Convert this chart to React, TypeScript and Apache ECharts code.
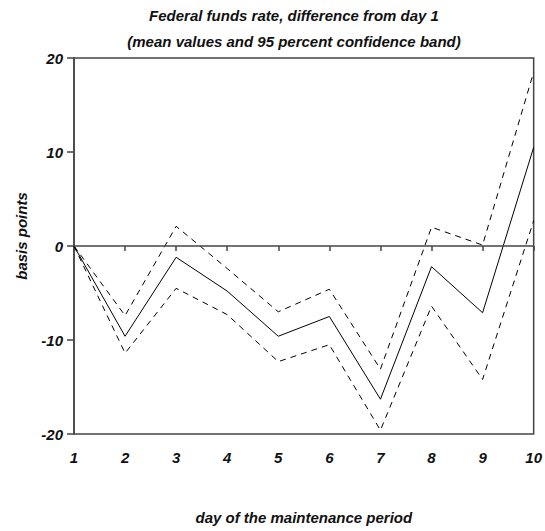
import React, { useEffect, useRef } from "react";
import * as echarts from "echarts";

const days = [1, 2, 3, 4, 5, 6, 7, 8, 9, 10];
const meanValues = [0, -9.6, -1.2, -4.8, -9.6, -7.5, -16.3, -2.2, -7.1, 10.5];
const upperBand = [0, -7.4, 2.1, -2.4, -7.0, -4.6, -13.1, 2.0, 0.1, 18.5];
const lowerBand = [0, -11.4, -4.5, -7.3, -12.3, -10.5, -19.6, -6.4, -14.2, 2.7];
const yTicks = { min: -20, max: 20, interval: 10 };
const titleText = "Federal funds rate, difference from day 1\n(mean values and 95 percent confidence band)";
const xName = "day of the maintenance period";
const yName = "basis points";

const FONT = "'Liberation Sans', Arial, sans-serif";

export default function App() {
  const ref = useRef<HTMLDivElement>(null);
  useEffect(() => {
    if (!ref.current) return;
    const chart = echarts.init(ref.current, undefined, { renderer: "svg" });
    const pair = (arr: number[]) => days.map((d, i) => [d, arr[i]]);
    const textBase = { fontFamily: FONT, fontWeight: "bold" as const, fontStyle: "italic" as const, color: "#111" };
    chart.setOption({
      animation: false,
      backgroundColor: "#fff",
      title: {
        text: titleText,
        left: 294,
        top: 2,
        padding: 0,
        textAlign: "center",
        textStyle: { ...textBase, fontSize: 15, lineHeight: 26 },
      },
      grid: {
        left: 74,
        right: 11,
        top: 58,
        bottom: 97,
        show: true,
        borderColor: "#444",
        borderWidth: 1.5,
        backgroundColor: "transparent",
      },
      xAxis: {
        type: "value",
        min: 1,
        max: 10,
        interval: 1,
        offset: 3,
        name: xName,
        nameLocation: "middle",
        nameGap: 73,
        nameTextStyle: { ...textBase, fontSize: 15 },
        axisLine: { show: false },
        axisTick: { show: true, length: 5, lineStyle: { color: "#444", width: 1.5 } },
        axisLabel: { ...textBase, fontSize: 15, margin: 13 },
        splitLine: { show: false },
      },
      yAxis: {
        type: "value",
        min: yTicks.min,
        max: yTicks.max,
        interval: yTicks.interval,
        axisLine: { show: true, lineStyle: { color: "#444", width: 1.5 } },
        axisTick: { show: true, length: 7, lineStyle: { color: "#444", width: 1.5 } },
        axisLabel: { ...textBase, fontSize: 15, margin: 11 },
        splitLine: { show: false },
      },
      graphic: [
        {
          type: "text",
          x: 21,
          y: 236,
          rotation: Math.PI / 2,
          style: {
            text: yName,
            fontFamily: FONT,
            fontWeight: "bold",
            fontStyle: "italic",
            fontSize: 15,
            fill: "#111",
            align: "center",
            verticalAlign: "middle",
          },
        },
      ],
      series: [
        {
          type: "line",
          data: pair(meanValues),
          symbol: "none",
          lineStyle: { color: "#000", width: 1 },
          markLine: {
            silent: true,
            symbol: "none",
            label: { show: false },
            lineStyle: { color: "#444", width: 1.5, type: "solid" },
            data: [{ yAxis: 0 }],
          },
        },
        {
          type: "line",
          data: pair(upperBand),
          symbol: "none",
          lineStyle: { color: "#000", width: 1, type: [6, 5] },
        },
        {
          type: "line",
          data: pair(lowerBand),
          symbol: "none",
          lineStyle: { color: "#000", width: 1, type: [6, 5] },
        },
      ],
    });
    return () => chart.dispose();
  }, []);
  return (
    <div
      ref={ref}
      style={{ position: "absolute", left: 0, top: 0, width: 545, height: 531, background: "#fff" }}
    />
  );
}
